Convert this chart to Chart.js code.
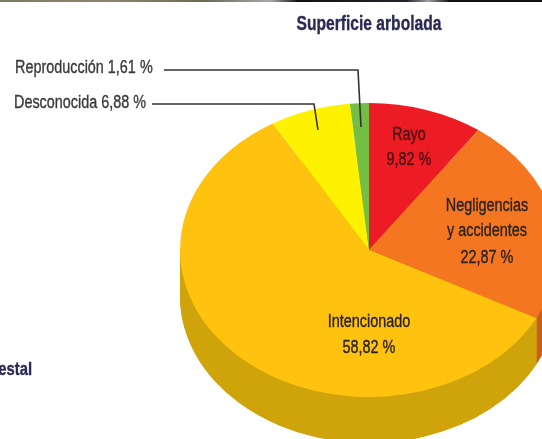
<!DOCTYPE html>
<html lang="es">
<head>
<meta charset="utf-8">
<style>
html,body{margin:0;padding:0;background:#fff;overflow:hidden}
#wrap{position:relative;width:542px;height:439px;overflow:hidden}
canvas{filter:blur(0.55px)}
</style>
<script src="https://cdn.jsdelivr.net/npm/chart.js@4"></script>
</head>
<body>
<div id="wrap"><canvas id="c" width="558" height="439"></canvas></div>
<script>
const categories = ['Rayo','Negligencias y accidentes','Intencionado','Desconocida','Reproducción'];
const values = [9.82,22.87,58.82,6.88,1.61];
const topColors = ['#ED1C24','#F47621','#FFC20E','#FFF200','#72BF44'];
const sideColors = ['#B8151B','#C9601B','#CFA30A','#CFC400','#5A9A35'];
const titleText = 'Superficie arbolada';
const cutText = 'estal';

const squash = 147/189;
const depth = 46;
const FONT = '"Liberation Sans",sans-serif';

function squashed(ctx, chart, dy){
  const cy = (chart.chartArea.top + chart.chartArea.bottom)/2;
  ctx.translate(0, cy + dy);
  ctx.scale(1, squash);
  ctx.translate(0, -cy);
}

const pie3d = {
  id:'pie3d',
  beforeDatasetsDraw(chart){
    const ctx = chart.ctx;
    const els = chart.getDatasetMeta(0).data;
    const cy = (chart.chartArea.top + chart.chartArea.bottom)/2;
    els.forEach((el,i)=>{
      // the part of this slice that lies on the front half of the rim
      const a = Math.max(el.startAngle, 0), b = Math.min(el.endAngle, Math.PI);
      if (b <= a) return;
      const x0 = el.x + el.outerRadius*Math.cos(b);
      const x1 = el.x + el.outerRadius*Math.cos(a);
      ctx.save();
      ctx.beginPath();
      ctx.rect(x0, 0, x1 - x0, chart.height);
      ctx.clip();
      ctx.fillStyle = sideColors[i];
      ctx.fillRect(x0, cy, x1 - x0, depth);
      squashed(ctx, chart, depth);
      for (let pass = 0; pass < 2; pass++) {
        els.forEach(other=>{
          const o = other.options;
          other.options = Object.assign({}, o, {backgroundColor:sideColors[i], borderWidth:0});
          other.draw(ctx);
          other.options = o;
        });
      }
      ctx.restore();
    });
    ctx.save();
    squashed(ctx, chart, 0);
  },
  afterDatasetsDraw(chart){
    chart.ctx.restore();
    drawAnnotations(chart);
  }
};

function txt(ctx, s, x, y, font, color, align, sx){
  ctx.save();
  ctx.translate(x, y);
  ctx.scale(sx || 0.8, 1);
  ctx.font = font;
  ctx.fillStyle = color;
  ctx.strokeStyle = color;
  ctx.lineWidth = 0.35;
  ctx.textAlign = align || 'center';
  ctx.textBaseline = 'middle';
  ctx.fillText(s, 0, 0);
  ctx.strokeText(s, 0, 0);
  ctx.restore();
}

function drawAnnotations(chart){
  const ctx = chart.ctx;
  ctx.save();
  const g = ctx.createLinearGradient(0,0,542,0);
  g.addColorStop(0,'#7d7a68'); g.addColorStop(.2,'#8f8468'); g.addColorStop(.38,'#6e6a58');
  g.addColorStop(.5,'#a8a8a8'); g.addColorStop(.55,'#111'); g.addColorStop(.75,'#222230');
  g.addColorStop(.79,'#9aa0a8'); g.addColorStop(.83,'#111'); g.addColorStop(1,'#111');
  ctx.fillStyle = g; ctx.fillRect(0,0,542,2);
  ctx.strokeStyle = '#333'; ctx.lineWidth = 1.6;
  ctx.beginPath(); ctx.moveTo(164,70); ctx.lineTo(358,70); ctx.lineTo(361,127); ctx.stroke();
  ctx.beginPath(); ctx.moveTo(152,104); ctx.lineTo(314,104); ctx.lineTo(318,130); ctx.stroke();
  const f = '18px '+FONT, dark='#2a2320', grey='#3a3a3a';
  txt(ctx, titleText, 369, 24, 'bold 20px '+FONT, '#2c2a55', 'center', 0.78);
  txt(ctx, 'Reproducción 1,61 %', 15, 68, f, grey, 'left');
  txt(ctx, 'Desconocida 6,88 %', 14, 103, f, grey, 'left');
  txt(ctx, 'Rayo', 409, 135, f, '#4a1014');
  txt(ctx, '9,82 %', 409, 160, f, '#4a1014');
  txt(ctx, 'Negligencias', 487, 206, f, dark);
  txt(ctx, 'y accidentes', 487, 231, f, dark);
  txt(ctx, '22,87 %', 487, 258, f, dark);
  txt(ctx, 'Intencionado', 369, 322, f, dark);
  txt(ctx, '58,82 %', 369, 348, f, dark);
  txt(ctx, cutText, 32, 370, 'bold 19px '+FONT, '#2c2a55', 'right', 0.78);
  ctx.restore();
}

new Chart(document.getElementById('c'), {
  type:'pie',
  data:{labels:categories, datasets:[{data:values, backgroundColor:topColors, borderWidth:0, clip:false}]},
  options:{
    responsive:false, animation:false,
    layout:{padding:{left:180,right:0,top:61,bottom:0}},
    plugins:{legend:{display:false},tooltip:{enabled:false},title:{display:false}}
  },
  plugins:[pie3d]
});
</script>
</body>
</html>
